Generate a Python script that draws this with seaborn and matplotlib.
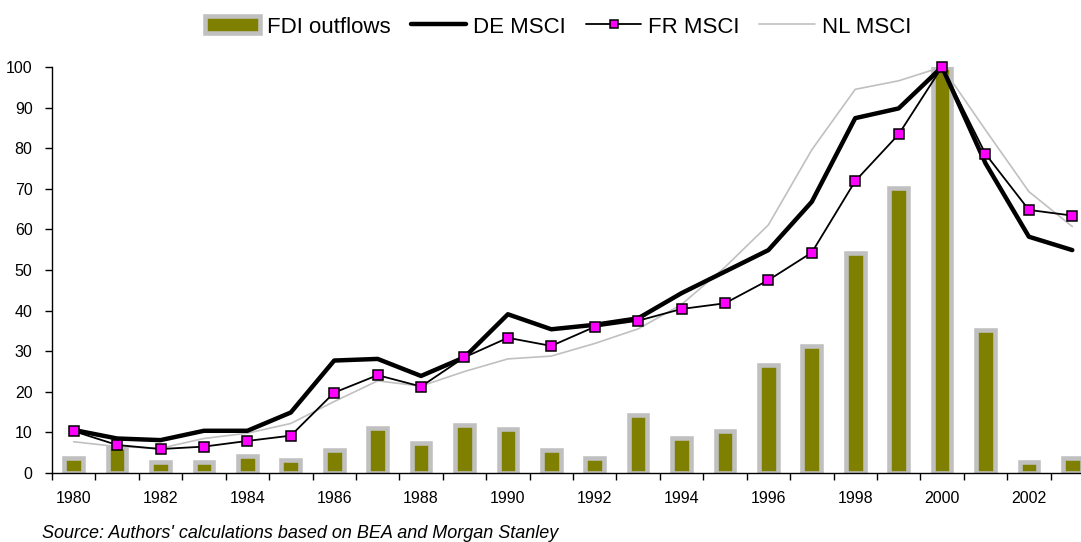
import numpy as np
import pandas as pd
import matplotlib
matplotlib.use("Agg")
import matplotlib.pyplot as plt
import seaborn as sns

years = [str(y) for y in range(1980, 2004)]
fdi_outflows = [3.8, 6.5, 2.8, 2.8, 4.3, 3.2, 5.7, 11.0, 7.5, 11.8, 10.8, 5.7,
                3.8, 14.3, 8.5, 10.4, 26.6, 31.4, 54.3, 70.1, 100.0, 35.2, 2.6, 3.6]
de_msci = [10.6, 8.5, 8.1, 10.4, 10.4, 14.9, 27.7, 28.1, 23.9, 28.5, 39.1, 35.4,
           36.5, 38.1, 44.3, 49.6, 54.9, 66.8, 87.4, 89.8, 100.0, 76.3, 58.2, 54.9]
fr_msci = [10.3, 6.9, 5.9, 6.5, 7.9, 9.2, 19.8, 24.1, 21.3, 28.5, 33.3, 31.3,
           36.0, 37.5, 40.4, 41.8, 47.5, 54.3, 71.9, 83.4, 100.0, 78.6, 64.8, 63.4]
nl_msci = [7.7, 6.5, 6.1, 8.5, 9.8, 12.2, 17.6, 22.7, 21.4, 25.0, 28.1, 28.8,
           31.9, 35.5, 41.5, 50.7, 61.1, 79.6, 94.5, 96.6, 100.0, 84.5, 69.3, 60.7]
yticks = list(range(0, 101, 10))
year_labels = [y if int(y) % 2 == 0 else "" for y in years]
source_text = "Source: Authors' calculations based on BEA and Morgan Stanley"

df = pd.DataFrame({"year": years, "FDI outflows": fdi_outflows,
                   "DE MSCI": de_msci, "FR MSCI": fr_msci, "NL MSCI": nl_msci})

sns.set_theme(style="white")
plt.rcParams["font.family"] = ["Liberation Sans", "DejaVu Sans"]
plt.rcParams["text.color"] = "black"

W, H = 1081, 542
fig = plt.figure(figsize=(W / 100, H / 100), dpi=100)
ax = fig.add_axes([52 / W, 69 / H, 1042 / W, 406 / H])

sns.barplot(data=df, x="year", y="FDI outflows", ax=ax, color="#808000",
            width=0.43, edgecolor="#C0C0C0", linewidth=3.3, saturation=1,
            zorder=2)
bar_handle = ax.patches[0]

n0 = len(ax.lines)
sns.pointplot(data=df, x="year", y="NL MSCI", ax=ax, color="#C0C0C0",
              errorbar=None, marker="", linewidth=1.2, clip_on=False, zorder=3)
nl_line = ax.lines[n0]
n0 = len(ax.lines)
sns.pointplot(data=df, x="year", y="DE MSCI", ax=ax, color="black",
              errorbar=None, marker="", linewidth=3.2, clip_on=False, zorder=4)
de_line = ax.lines[n0]
n0 = len(ax.lines)
sns.pointplot(data=df, x="year", y="FR MSCI", ax=ax, color="black",
              errorbar=None, marker="s", markersize=7.5,
              markerfacecolor="#FF00FF", markeredgecolor="black",
              markeredgewidth=1.1, linewidth=1.3, clip_on=False, zorder=5)
fr_line = ax.lines[n0]

n = len(years)
ax.set_xlim(-0.5, n - 0.5)
ax.set_ylim(0, 100)
ax.set_xlabel("")
ax.set_ylabel("")
ax.grid(False)

ax.set_xticks(np.arange(n))
ax.set_xticklabels(year_labels, fontsize=11.5, color="black")
ax.set_xticks(np.arange(n + 1) - 0.5, minor=True)
ax.tick_params(axis="x", which="major", length=0, pad=13)
ax.tick_params(axis="x", which="minor", length=5, width=1, color="black",
               direction="out", bottom=True)

ax.set_yticks(yticks)
ax.set_yticklabels([str(v) for v in yticks], fontsize=11.5, color="black")
ax.tick_params(axis="y", which="major", length=5, width=1, color="black",
               direction="out", left=True, pad=9)

for s in ["top", "right"]:
    ax.spines[s].set_visible(False)
for s in ["left", "bottom"]:
    ax.spines[s].set_color("black")
    ax.spines[s].set_linewidth(1)

leg = fig.legend([bar_handle, de_line, fr_line, nl_line],
                 ["FDI outflows", "DE MSCI", "FR MSCI", "NL MSCI"],
                 loc="center", bbox_to_anchor=(558 / W, 1 - 27 / H), ncol=4,
                 frameon=False, fontsize=16, handlelength=2.5,
                 handleheight=0.8, handletextpad=0.3, columnspacing=0.9,
                 markerscale=0.75)
for t in leg.get_texts():
    t.set_color("black")

fig.text(42 / W, 1 - 533 / H, source_text, fontsize=13, style="italic",
         va="center", ha="left", color="black")

fig.savefig("out.png", dpi=100)
